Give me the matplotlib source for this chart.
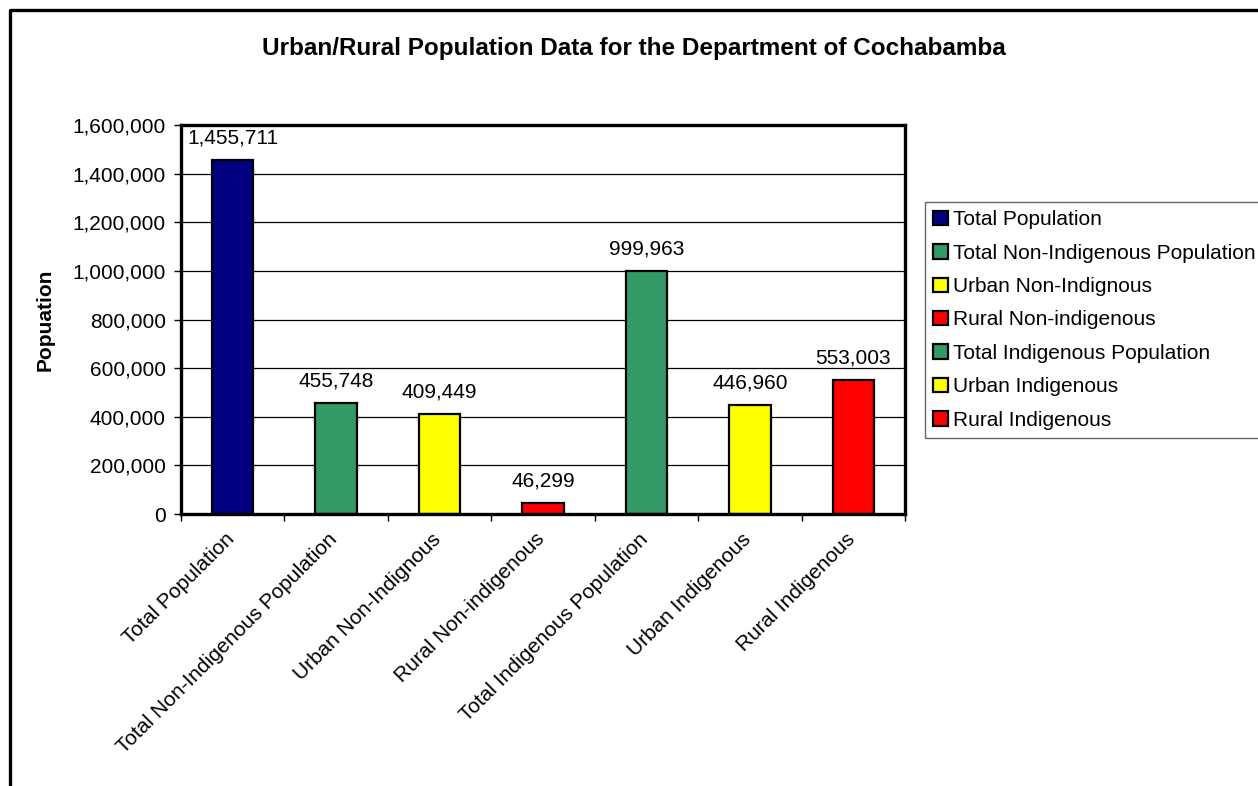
import numpy as np
import matplotlib
matplotlib.use('Agg')
import matplotlib.pyplot as plt
from matplotlib.patches import Patch
from matplotlib.lines import Line2D
from matplotlib.ticker import FuncFormatter, MultipleLocator

plt.rcParams['font.family'] = ['Liberation Sans', 'DejaVu Sans']

categories = ['Total Population', 'Total Non-Indigenous Population',
              'Urban Non-Indignous', 'Rural Non-indigenous',
              'Total Indigenous Population', 'Urban Indigenous',
              'Rural Indigenous']
population = [1455711, 455748, 409449, 46299, 999963, 446960, 553003]
colors = ['#000080', '#339966', '#FFFF00', '#FF0000',
          '#339966', '#FFFF00', '#FF0000']

W, H = 1258, 786
fs = 15
fig = plt.figure(figsize=(W / 100, H / 100), dpi=100)
ax = fig.add_axes([181 / W, 1 - 514 / H, (905 - 181) / W, (514 - 125) / H])

x = np.arange(len(categories))
bars = ax.bar(x, population, width=0.4, color=colors, edgecolor='black',
              linewidth=1.6, zorder=3)

for xi, val in zip(x, population):
    ax.annotate(f'{val:,}', xy=(xi, val), xytext=(0, 9),
                textcoords='offset points', ha='center', va='bottom',
                fontsize=fs)

ax.set_xlim(-0.5, len(categories) - 0.5)
ax.set_ylim(0, 1600000)
ax.yaxis.set_major_locator(MultipleLocator(200000))
ax.yaxis.set_major_formatter(FuncFormatter(lambda v, p: f'{int(v):,}'))
ax.grid(axis='y', color='black', linewidth=0.9, zorder=0)
ax.tick_params(axis='y', labelsize=fs, length=5, width=1, pad=6)

# category ticks sit between bars, labels under each bar
ax.set_xticks(np.arange(len(categories) + 1) - 0.5)
ax.set_xticklabels([])
ax.tick_params(axis='x', length=5, width=1)
for xi, name in zip(x, categories):
    ax.text(xi - 0.08, -0.04, name, transform=ax.get_xaxis_transform(),
            rotation=45, ha='right', va='top', rotation_mode='anchor',
            fontsize=fs)

for sp in ax.spines.values():
    sp.set_linewidth(2.4)
    sp.set_zorder(4)

ax.set_ylabel('Popuation', fontsize=fs, fontweight='bold')
ax.yaxis.set_label_coords(-0.175, 0.5)

fig.text(634 / W, 1 - 48 / H,
         'Urban/Rural Population Data for the Department of Cochabamba',
         ha='center', va='center', fontsize=17.5, fontweight='bold')

handles = [Patch(facecolor=c, edgecolor='black', linewidth=1.6)
           for c in colors]
leg = fig.legend(handles, categories, loc='upper left',
                 bbox_to_anchor=(925 / W, 1 - 202 / H), fontsize=fs,
                 frameon=True, fancybox=False, handlelength=0.7,
                 handleheight=0.7, handletextpad=0.25, labelspacing=0.69,
                 borderpad=0.4, borderaxespad=0)
leg.get_frame().set_edgecolor('#404040')
leg.get_frame().set_linewidth(1.0)

# chart frame, left and top edges
fig.add_artist(Line2D([10 / W, 10 / W, 1.0], [0.0, 1 - 10 / H, 1 - 10 / H],
                      transform=fig.transFigure, color='black',
                      linewidth=2.4))

fig.savefig('out.png', dpi=100)
